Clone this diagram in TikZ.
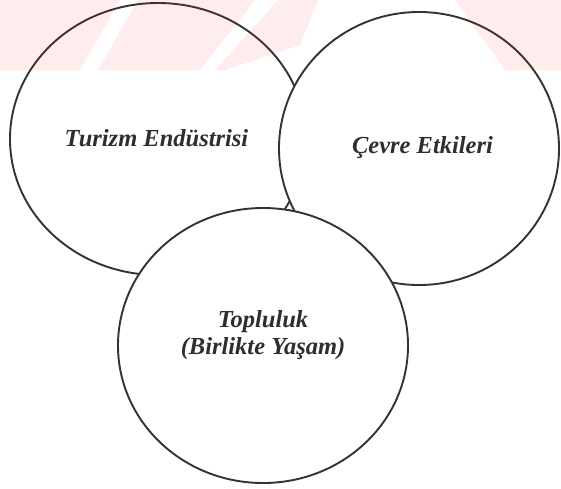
\documentclass[tikz,border=0pt]{standalone}
\usepackage{fontspec}
\setmainfont{Liberation Serif}
\usetikzlibrary{shapes.geometric}
\begin{document}
\begin{tikzpicture}[x=1pt,y=-1pt,
  ring/.style={ellipse, draw=black!80, line width=1.9pt, fill=white, inner sep=0pt},
  label/.style={font=\fontsize{24.5}{27}\selectfont\bfseries\itshape, text=black!82, align=center, inner sep=0pt},
  wm/.style={fill=red!85!white, opacity=0.08, draw=none}]
\useasboundingbox (0,0) rectangle (561,488);
\fill[white] (0,0) rectangle (561,488);
% circles
\node[ring, minimum width=296pt, minimum height=272pt] (ind) at (158,139) {};
\node[ring, minimum width=280pt, minimum height=273pt] (env) at (419,148.5) {};
\node[ring, minimum width=290pt, minimum height=275pt] (com) at (263,345.5) {};
% texts
\node[label, anchor=base] (tind) at (156.5,146) {Turizm Endüstrisi};
\node[label, anchor=base] (tenv) at (422.5,153) {Çevre Etkileri};
\node[label, anchor=base] (tcom) at (263,354) {Topluluk\\(Birlikte Yaşam)};
% faint watermark band
\fill[wm] (0,0) -- (120,0) -- (80,70) -- (0,70) -- cycle;
\fill[wm] (138,0) -- (255,0) -- (200,70) -- (98,70) -- cycle;
\fill[wm] (278,0) -- (318,0) -- (300,45) -- (225,70) -- (215,70) -- cycle;
\fill[wm] (455,0) -- (561,0) -- (561,70) -- (505,70) -- cycle;
\end{tikzpicture}
\end{document}
